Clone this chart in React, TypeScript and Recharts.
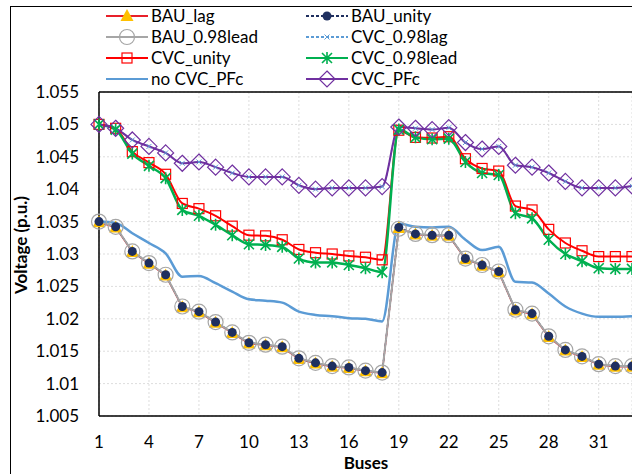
import React from 'react';
import { LineChart, Line, XAxis, YAxis, CartesianGrid, ReferenceLine } from 'recharts';

const buses = [1, 2, 3, 4, 5, 6, 7, 8, 9, 10, 11, 12, 13, 14, 15, 16, 17, 18, 19, 20, 21, 22, 23, 24, 25, 26, 27, 28, 29, 30, 31, 32, 33];

const bauLag = [1.0349, 1.0341, 1.0303, 1.0285, 1.0267, 1.0218, 1.021, 1.0194, 1.0178, 1.0162, 1.0159, 1.0156, 1.0138, 1.0131, 1.0126, 1.0124, 1.0119, 1.0116, 1.034, 1.033, 1.0328, 1.0328, 1.0292, 1.0282, 1.0272, 1.0213, 1.0207, 1.0172, 1.0151, 1.0141, 1.0129, 1.0126, 1.0126];
const bauUnity = [1.035, 1.0342, 1.0304, 1.0286, 1.0268, 1.0219, 1.0211, 1.0195, 1.0179, 1.0163, 1.016, 1.0157, 1.0139, 1.0132, 1.0127, 1.0125, 1.012, 1.0117, 1.0341, 1.0331, 1.0329, 1.0329, 1.0293, 1.0283, 1.0273, 1.0214, 1.0208, 1.0173, 1.0152, 1.0142, 1.013, 1.0127, 1.0127];
const bauLead = [1.035, 1.0342, 1.0304, 1.0286, 1.0268, 1.0219, 1.0211, 1.0195, 1.0179, 1.0163, 1.016, 1.0157, 1.0139, 1.0132, 1.0127, 1.0125, 1.012, 1.0117, 1.0339, 1.0331, 1.0329, 1.0329, 1.0293, 1.0283, 1.0273, 1.0214, 1.0208, 1.0173, 1.0152, 1.0142, 1.013, 1.0127, 1.0127];
const cvcLag = [1.05, 1.0494, 1.0476, 1.0466, 1.0456, 1.044, 1.0442, 1.0434, 1.0425, 1.0419, 1.0419, 1.0419, 1.0406, 1.04, 1.0402, 1.0402, 1.0402, 1.0404, 1.0496, 1.0494, 1.0492, 1.0495, 1.0472, 1.0462, 1.0466, 1.0437, 1.0434, 1.0425, 1.0412, 1.0402, 1.0402, 1.0402, 1.0405];
const cvcUnity = [1.05, 1.0494, 1.0458, 1.0441, 1.0423, 1.0378, 1.037, 1.0359, 1.0343, 1.0329, 1.0328, 1.0322, 1.0307, 1.0302, 1.03, 1.0297, 1.0295, 1.0291, 1.0491, 1.048, 1.0479, 1.0481, 1.0447, 1.0432, 1.0428, 1.0374, 1.0368, 1.0338, 1.0317, 1.0305, 1.0296, 1.0296, 1.0296];
const cvcLead = [1.05, 1.0492, 1.0455, 1.0436, 1.0417, 1.0368, 1.0359, 1.0345, 1.0329, 1.0315, 1.0314, 1.0311, 1.0293, 1.0287, 1.0287, 1.0283, 1.0278, 1.0272, 1.0492, 1.048, 1.0477, 1.0478, 1.0442, 1.0425, 1.0422, 1.0363, 1.0355, 1.0322, 1.03, 1.0289, 1.0278, 1.0277, 1.0277];
const noCvcPfc = [1.035, 1.0348, 1.0332, 1.0317, 1.0301, 1.0265, 1.0266, 1.0255, 1.0242, 1.023, 1.0228, 1.0225, 1.0211, 1.0206, 1.0204, 1.0201, 1.02, 1.0196, 1.0347, 1.0342, 1.0341, 1.0342, 1.0322, 1.0306, 1.0311, 1.0257, 1.0256, 1.0239, 1.0219, 1.0208, 1.0203, 1.0203, 1.0204];
const cvcPfc = [1.05, 1.0494, 1.0476, 1.0466, 1.0456, 1.044, 1.0442, 1.0434, 1.0425, 1.0419, 1.0419, 1.0419, 1.0406, 1.04, 1.0402, 1.0402, 1.0402, 1.0404, 1.0496, 1.0494, 1.0492, 1.0495, 1.0472, 1.0462, 1.0466, 1.0437, 1.0434, 1.0425, 1.0412, 1.0402, 1.0402, 1.0402, 1.0405];

const xTicks = [1, 4, 7, 10, 13, 16, 19, 22, 25, 28, 31];
const yTicks = [1.005, 1.01, 1.015, 1.02, 1.025, 1.03, 1.035, 1.04, 1.045, 1.05, 1.055];

const data = buses.map((bus, i) => ({
  bus,
  bauLag: bauLag[i],
  bauUnity: bauUnity[i],
  bauLead: bauLead[i],
  cvcLag: cvcLag[i],
  cvcUnity: cvcUnity[i],
  cvcLead: cvcLead[i],
  noCvcPfc: noCvcPfc[i],
  cvcPfc: cvcPfc[i],
}));

const FONT = 'Lato, "Open Sans", sans-serif';

// marker shapes, shared by the lines and the legend
const triangle = (cx: number, cy: number) => (
  <path d={`M${cx},${cy - 7} L${cx + 6.5},${cy + 5} L${cx - 6.5},${cy + 5} Z`} fill="#FFC000" />
);
const navyDot = (cx: number, cy: number) => <circle cx={cx} cy={cy} r={4.5} fill="#1F2F5F" />;
const ring = (cx: number, cy: number) => (
  <circle cx={cx} cy={cy} r={7.5} fill="none" stroke="#A6A6A6" strokeWidth={1.2} />
);
const cross = (cx: number, cy: number) => (
  <path d={`M${cx - 2.5},${cy - 2.5} L${cx + 2.5},${cy + 2.5} M${cx - 2.5},${cy + 2.5} L${cx + 2.5},${cy - 2.5}`} stroke="#5B9BD5" strokeWidth={1} />
);
const square = (cx: number, cy: number) => (
  <rect x={cx - 5} y={cy - 5} width={10} height={10} fill="none" stroke="#FF0000" strokeWidth={1.2} />
);
const star = (cx: number, cy: number) => (
  <path
    d={`M${cx - 5},${cy - 5} L${cx + 5},${cy + 5} M${cx - 5},${cy + 5} L${cx + 5},${cy - 5} M${cx},${cy - 6} L${cx},${cy + 6}`}
    stroke="#00B050"
    strokeWidth={1.6}
  />
);
const diamond = (cx: number, cy: number) => (
  <path d={`M${cx},${cy - 8} L${cx + 8},${cy} L${cx},${cy + 8} L${cx - 8},${cy} Z`} fill="none" stroke="#7030A0" strokeWidth={1.2} />
);

const dotFrom = (shape: (cx: number, cy: number) => React.ReactElement, name: string) => (p: any) => (
  <g key={`${name}-${p.index}`}>{shape(p.cx, p.cy)}</g>
);

const legendItems = [
  { label: 'BAU_lag', color: '#E8202A', dash: undefined, shape: triangle },
  { label: 'BAU_unity', color: '#1F2F5F', dash: '3 2', shape: navyDot },
  { label: 'BAU_0.98lead', color: '#A6A6A6', dash: undefined, shape: ring },
  { label: 'CVC_0.98lag', color: '#5B9BD5', dash: '3 2', shape: cross },
  { label: 'CVC_unity', color: '#FF0000', dash: undefined, shape: square },
  { label: 'CVC_0.98lead', color: '#00B050', dash: undefined, shape: star },
  { label: 'no CVC_PFc', color: '#5B9BD5', dash: undefined, shape: null },
  { label: 'CVC_PFc', color: '#7030A0', dash: undefined, shape: diamond },
];

function LegendBox() {
  return (
    <div style={{ position: 'absolute', left: 106, top: 5, display: 'grid', gridTemplateColumns: '200px 200px', rowGap: 0, fontFamily: FONT, fontSize: 17 }}>
      {legendItems.map((it) => (
        <div key={it.label} style={{ display: 'flex', alignItems: 'center', height: 21 }}>
          <svg width={42} height={20} style={{ marginRight: 3 }}>
            <line x1={0} y1={10} x2={42} y2={10} stroke={it.color} strokeWidth={2} strokeDasharray={it.dash} />
            {it.shape ? it.shape(21, 10) : null}
          </svg>
          <span>{it.label}</span>
        </div>
      ))}
    </div>
  );
}

const fmtY = (v: number) => String(parseFloat(v.toFixed(3)));

export default function App() {
  return (
    <div style={{ position: 'fixed', left: 0, top: 0, width: 632, height: 474, overflow: 'hidden', background: '#fff' }}>
      <div style={{ position: 'absolute', left: 10, top: 6, width: 700, height: 600, border: '1.5px solid #000' }} />
      <LegendBox />
      <div style={{ position: 'absolute', left: 0, top: 0 }}>
        <LineChart width={632} height={474} data={data} margin={{ top: 92, right: 0, left: 0, bottom: 0 }}>
          <CartesianGrid stroke="#DDDDDD" strokeDasharray="2 2" />
          <XAxis
            dataKey="bus"
            type="number"
            domain={[1, 33]}
            ticks={xTicks}
            tickLine={false}
            axisLine={{ stroke: '#000', strokeWidth: 1.5 }}
            tick={{ fill: '#000', fontSize: 17, fontFamily: FONT }}
            tickMargin={14}
            height={58}
          />
          <YAxis
            type="number"
            domain={[1.005, 1.055]}
            ticks={yTicks}
            tickFormatter={fmtY}
            tickLine={false}
            axisLine={{ stroke: '#000', strokeWidth: 1.5 }}
            tick={{ fill: '#000', fontSize: 17, fontFamily: FONT }}
            tickMargin={14}
            width={99}
            interval={0}
          />
          <ReferenceLine y={1.055} stroke="#000" strokeWidth={1.5} />
          <Line dataKey="bauLag" type="linear" stroke="#E8202A" strokeWidth={1.5} dot={dotFrom(triangle, 'tri')} isAnimationActive={false} />
          <Line dataKey="bauUnity" type="linear" stroke="#1F2F5F" strokeWidth={1.5} strokeDasharray="3 2" dot={dotFrom(navyDot, 'nd')} isAnimationActive={false} />
          <Line dataKey="bauLead" type="linear" stroke="#A6A6A6" strokeWidth={2} dot={dotFrom(ring, 'ring')} isAnimationActive={false} />
          <Line dataKey="cvcLag" type="monotone" stroke="#5B9BD5" strokeWidth={1.5} strokeDasharray="3 2" dot={dotFrom(cross, 'x')} isAnimationActive={false} />
          <Line dataKey="cvcUnity" type="monotone" stroke="#FF0000" strokeWidth={2} dot={dotFrom(square, 'sq')} isAnimationActive={false} />
          <Line dataKey="cvcLead" type="monotone" stroke="#00B050" strokeWidth={2.5} dot={dotFrom(star, 'st')} isAnimationActive={false} />
          <Line dataKey="noCvcPfc" type="monotone" stroke="#5B9BD5" strokeWidth={2.5} dot={false} isAnimationActive={false} />
          <Line dataKey="cvcPfc" type="monotone" stroke="#7030A0" strokeWidth={2} dot={dotFrom(diamond, 'dm')} isAnimationActive={false} />
        </LineChart>
      </div>
      <div style={{ position: 'absolute', left: 20, top: 245, transform: 'translate(-50%, -50%) rotate(-90deg)', fontFamily: FONT, fontWeight: 700, fontSize: 17, whiteSpace: 'nowrap' }}>
        Voltage (p.u.)
      </div>
      <div style={{ position: 'absolute', left: 366, top: 463, transform: 'translate(-50%, -50%)', fontFamily: FONT, fontWeight: 700, fontSize: 17, whiteSpace: 'nowrap', lineHeight: '18px' }}>
        Buses
      </div>
    </div>
  );
}
